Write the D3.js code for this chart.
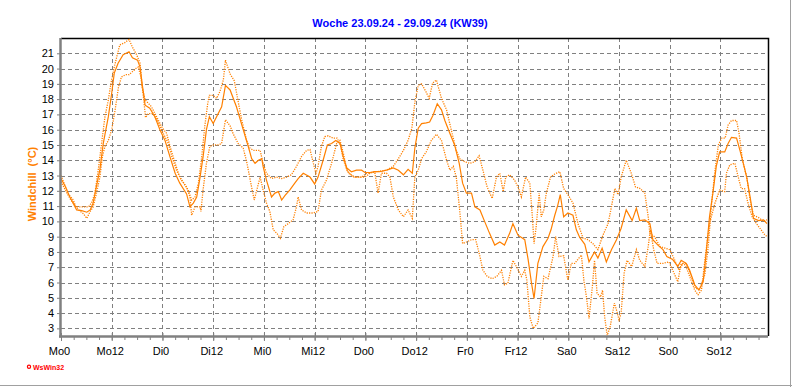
<!DOCTYPE html>
<html>
<head>
<meta charset="utf-8">
<script src="https://cdn.jsdelivr.net/npm/d3@7"></script>
<style>
  body { margin: 0; background: #fff; }
  svg { display: block; font-family: "Liberation Sans", Arial, sans-serif; }
</style>
</head>
<body>
<div id="chart"></div>
<script>
const title = "Woche 23.09.24 - 29.09.24 (KW39)";
const yLabel = "Windchill  (°C)";
const dayNames = ["Mo", "Di", "Mi", "Do", "Fr", "Sa", "So"];
const yTicks = [3, 4, 5, 6, 7, 8, 9, 10, 11, 12, 13, 14, 15, 16, 17, 18, 19, 20, 21];
const xTicks = [0, 12, 24, 36, 48, 60, 72, 84, 96, 108, 120, 132, 144, 156];

// [hour of the week, °C]
const windchill = [
  [0,12.8],[1,12.3],[2.1,11.6],[3.7,10.75],[4.9,10.7],[6.1,10.6],[6.9,10.75],[7.6,11.2],[8.4,12.3],[9.2,13.4],
  [10,15.1],[11.2,16.85],[12,18.4],[12.6,19.7],[13.5,20.35],[14.7,20.9],[16.1,21.1],[16.9,20.7],[18.1,20.55],[18.7,20.1],
  [19.2,19.0],[19.9,17.6],[21,17.4],[22.2,16.85],[23.4,16.0],[24.6,15.3],[25.8,14.2],[27,13.15],[28.1,12.5],[29.7,11.8],
  [30.5,10.95],[31.3,11.2],[32.1,11.6],[32.9,12.9],[33.6,14.2],[34.4,16.0],[35.1,16.85],[36,16.4],[36.8,16.85],[38,17.5],
  [38.9,18.9],[40,18.6],[41.5,17.5],[43.1,16.0],[44.3,14.9],[45.1,14.1],[45.9,13.8],[46.7,14.0],[47.5,14.1],[47.8,13.6],
  [48.6,12.7],[49.8,11.6],[50.6,11.85],[51.4,11.95],[52.2,11.4],[53,11.7],[54.1,12.05],[55.3,12.5],[56.1,12.8],[57.3,13.15],
  [58.9,12.9],[60,12.45],[60.8,12.9],[62,14.0],[63,15.0],[64,15.1],[65,15.3],[66,15.1],[66.8,14.2],[67.6,13.5],
  [68.7,13.25],[69.9,13.35],[71.1,13.35],[71.9,13.2],[73.1,13.2],[74.2,13.25],[75.4,13.25],[77,13.35],[78.6,13.5],[79.8,13.35],
  [81,13.05],[82.1,13.4],[83.1,13.15],[83.7,14.8],[84.5,16.1],[85.3,16.4],[86.4,16.45],[87.2,16.5],[88,16.95],[89,17.7],
  [90,17.3],[90.8,16.6],[92,15.75],[93.1,15.0],[94.2,13.8],[95,12.5],[95.9,11.85],[97.1,11.85],[97.9,10.95],[99.1,10.75],
  [100.2,10.0],[101.4,9.2],[102.6,8.45],[103.8,8.65],[104.9,8.45],[106.1,9.2],[106.9,9.85],[108.1,9.1],[109.7,8.8],[110.5,7.5],
  [111.3,5.95],[111.9,4.95],[112.8,7.25],[114,8.35],[115.2,8.9],[115.9,9.45],[116.8,10.4],[117.5,11.05],[118.1,11.75],[118.9,10.3],
  [119.9,10.55],[121.1,10.4],[121.9,9.45],[122.7,8.95],[123.9,8.5],[124.9,7.35],[126.2,8.0],[127,7.6],[128,8.25],[129,7.35],
  [130.2,8.15],[131.4,8.8],[132.5,9.55],[133.7,10.75],[135.1,10.05],[136.1,10.85],[136.9,10.05],[138.1,10.1],[139.3,9.85],[140,8.8],
  [141.2,8.45],[142.4,8.15],[143.3,7.7],[144.7,7.5],[145.9,7.05],[146.7,7.45],[147.9,7.25],[148.7,6.8],[149.9,5.85],[150.9,5.5],
  [151.9,6.05],[152.6,7.9],[153.4,10.3],[154.2,11.85],[155,13.6],[155.8,14.55],[157,14.55],[157.8,15.1],[158.6,15.5],[159.8,15.45],
  [160.6,14.65],[161.4,13.8],[162.2,12.9],[163,11.6],[163.8,10.2],[165,10.05],[166.2,10.1],[167,9.85]
];

const windchillMax = [
  [0,13.0],[1.7,11.8],[2.9,11.4],[3.5,10.95],[6.5,10.95],[7.2,11.2],[8,11.8],[8.8,13.35],[9.6,15.1],[10.4,16.85],
  [11.2,17.95],[11.8,19.0],[12.6,20.1],[13.4,21.0],[13.9,21.55],[15.1,21.7],[16.1,21.9],[16.9,21.4],[17.9,20.9],[18.7,20.35],
  [19.2,18.8],[19.9,17.95],[21.4,17.5],[22.6,16.85],[23.8,16.2],[25,15.75],[25.8,14.9],[27,13.8],[28.1,12.9],[29.3,12.4],
  [30.1,12.05],[30.9,11.4],[31.7,11.6],[32.5,12.5],[33.3,14.25],[34,16.2],[34.7,17.7],[35.1,18.25],[36,18.25],[36.8,18.05],
  [37.6,18.5],[38.4,19.25],[38.9,20.55],[40,19.65],[41,19.2],[41.8,18.0],[42.7,16.7],[43.9,15.3],[44.7,14.8],[45.5,14.65],
  [47.1,14.65],[47.8,13.8],[48.6,13.15],[49.8,12.8],[51,12.9],[52.2,12.8],[53.4,12.9],[54.5,13.05],[55.7,13.6],[56.9,14.25],
  [58.1,14.65],[58.9,14.7],[59.7,13.8],[60.3,13.15],[60.8,13.6],[61.6,14.9],[62.4,15.55],[63.2,15.6],[64.4,15.45],[65.3,15.45],
  [66.1,15.0],[66.8,14.0],[68,13.15],[69.5,12.9],[71.1,12.9],[72.3,13.15],[74.6,13.25],[77,13.35],[78.6,13.6],[79.8,14.1],
  [81,14.65],[82.1,15.3],[83,16.1],[83.7,17.8],[84.5,18.9],[85.3,19.0],[86.3,18.5],[87.1,18.05],[87.9,19.05],[88.8,19.25],
  [90,18.05],[91.2,17.3],[92.3,16.0],[93.5,14.65],[94.3,14.1],[95.5,13.9],[96.7,13.8],[97.9,13.9],[98.9,14.3],[99.8,13.35],
  [100.8,12.25],[102,11.5],[103,12.9],[103.8,13.15],[104.6,11.95],[105.2,12.9],[106.1,13.05],[107.3,12.7],[108.1,12.25],[108.9,11.6],
  [109.9,12.9],[110.9,12.5],[111.5,10.3],[111.9,8.55],[112.4,9.65],[113.1,11.85],[113.6,10.3],[114.2,10.75],[114.8,11.85],[115.8,12.9],
  [116.8,13.1],[118,13.25],[118.9,12.15],[119.9,11.75],[121.1,11.2],[122.3,9.85],[123.5,8.9],[124.7,8.8],[125.8,8.55],[127,8.15],
  [128.2,9.1],[129.4,9.85],[130.2,10.95],[131,12.15],[131.8,11.75],[132.5,12.9],[133.7,14.0],[134.9,13.15],[135.9,12.25],[137,12.15],
  [138.1,11.85],[138.9,10.3],[139.3,9.2],[140.4,9.0],[141.7,8.35],[142.9,8.25],[144,8.15],[145.2,7.45],[146.2,6.8],[147.1,7.25],
  [147.9,7.25],[149.1,6.4],[150.1,5.6],[151.1,5.6],[152.3,6.5],[153.1,8.35],[153.9,11.2],[154.7,13.35],[155.5,15.0],[156.3,15.45],
  [157.1,15.45],[157.8,16.3],[158.6,16.6],[159.8,16.6],[160.4,15.75],[161.2,14.0],[162.2,12.9],[163,11.4],[163.8,10.4],[165,10.25],
  [166.2,10.0],[167,10.1]
];

const windchillMin = [
  [0,12.6],[0.95,12.1],[2.1,11.5],[3.3,11.05],[4.1,10.75],[5.3,10.5],[6.1,10.2],[6.9,10.65],[7.6,10.95],[8.4,11.85],
  [9.2,12.9],[9.8,14.25],[10.4,14.9],[11.2,15.3],[12,16.0],[12.8,17.3],[13.6,18.8],[14.3,19.45],[15.3,19.6],[16.1,19.6],
  [16.9,19.8],[17.7,20.0],[18.3,20.1],[18.9,19.45],[19.5,18.15],[20,16.8],[20.6,17.05],[21.8,17.05],[23,16.5],[24.2,15.75],
  [25.4,15.1],[26.2,14.25],[27.3,13.35],[28.5,12.7],[29.7,12.25],[30.5,11.6],[30.9,10.4],[31.7,10.95],[32.9,10.95],[33.1,10.65],
  [33.6,12.05],[34.4,13.8],[35.2,14.9],[36,15.0],[37.2,15.0],[38,15.1],[38.9,16.65],[40,16.25],[40.7,15.75],[41.9,15.1],
  [43.1,14.8],[44,13.8],[44.9,12.5],[45.7,11.4],[46.5,12.25],[47.1,12.9],[47.8,12.05],[48.6,11.2],[49.4,10.65],[50.2,9.45],
  [51.1,9.2],[51.9,8.9],[52.7,9.65],[53.7,9.85],[54.9,10.1],[55.7,10.95],[56.1,11.6],[56.9,10.75],[58.1,10.55],[59.7,10.55],
  [60.8,10.65],[61.6,12.05],[62.8,12.7],[64,13.8],[65.2,15.1],[66,15.3],[66.8,14.45],[67.6,13.35],[69.1,12.9],[70.7,12.9],
  [71.9,12.9],[73.1,13.15],[74.2,13.25],[75,11.85],[75.8,13.15],[77,13.15],[77.8,12.9],[78.6,11.6],[79.8,10.75],[81,10.3],
  [82.1,10.75],[83.1,10.2],[83.7,12.9],[84.5,13.35],[85.3,14.1],[86.4,14.55],[87.6,15.3],[88.8,15.7],[90,15.3],[91.2,14.0],
  [92,13.35],[92.8,13.6],[93.5,12.9],[94.3,10.75],[95,8.55],[95.9,8.65],[97.1,8.8],[98.1,8.8],[99.1,7.7],[99.8,6.8],
  [100.8,6.4],[102,6.25],[103.1,6.4],[104.2,6.8],[104.9,5.85],[105.7,5.95],[106.9,7.45],[107.9,6.95],[108.9,6.4],[109.7,6.8],
  [110.2,6.15],[110.9,3.75],[111.7,3.0],[112.8,3.35],[113.6,5.05],[114.2,6.4],[115.2,6.25],[116.4,7.7],[117,9.0],[117.8,7.7],
  [118.9,7.75],[119.9,6.15],[120.7,7.25],[121.5,7.25],[123.1,7.8],[123.7,6.1],[124.3,5.05],[124.9,3.65],[125.7,5.75],[126.2,7.45],
  [126.8,5.3],[127.6,5.05],[128.1,5.5],[128.6,3.75],[129.2,2.55],[129.9,3.1],[130.9,4.65],[131.5,4.1],[132,3.55],[132.5,4.0],
  [133.2,6.6],[133.9,7.45],[135,7.05],[136.1,8.15],[136.9,7.45],[138.1,7.05],[138.9,8.35],[139.4,9.45],[140.2,8.15],[141,7.25],
  [142.4,7.25],[143.8,7.35],[144.7,6.8],[145.9,6.05],[146.7,7.25],[147.7,7.15],[148.7,6.4],[149.9,5.5],[150.7,5.2],[151.5,5.5],
  [152.3,7.45],[153.4,9.85],[154.7,11.2],[155.8,12.05],[157,11.95],[157.4,13.15],[158.2,13.7],[159.4,13.8],[160.2,12.9],[160.9,12.15],
  [161.7,12.15],[162.5,11.2],[163.5,10.3],[164.5,9.85],[165.6,9.45],[166.4,9.15],[167,9.0]
];

const width = 792, height = 387;
const plot = {left: 61, right: 767, top: 38, bottom: 336};
const orange = "#ff8000";

const svg = d3.select("#chart").append("svg")
    .attr("width", width)
    .attr("height", height);

const x = d3.scaleLinear().domain([0, 167]).range([plot.left, plot.right]);
const y = d3.scaleLinear().domain([2.5, 22]).range([plot.bottom, plot.top]);

// outer frame (only right/bottom visible)
svg.append("line").attr("x1", 0).attr("x2", width).attr("y1", height - 1.5).attr("y2", height - 1.5)
    .attr("stroke", "#a0a0a0");
svg.append("line").attr("x1", width - 1.5).attr("x2", width - 1.5).attr("y1", 0).attr("y2", height)
    .attr("stroke", "#a0a0a0");

// grid
const grid = svg.append("g")
    .attr("stroke", "#808080")
    .attr("stroke-dasharray", "4,3")
    .attr("shape-rendering", "crispEdges");

grid.selectAll(".hg")
    .data(yTicks)
    .enter().append("line")
    .attr("x1", plot.left)
    .attr("x2", plot.right + 1)
    .attr("y1", d => Math.round(y(d)) + 0.5)
    .attr("y2", d => Math.round(y(d)) + 0.5);

grid.selectAll(".vg")
    .data(xTicks.slice(1))
    .enter().append("line")
    .attr("x1", d => Math.round(x(d)) + 0.5)
    .attr("x2", d => Math.round(x(d)) + 0.5)
    .attr("y1", plot.top)
    .attr("y2", plot.bottom);

// top and right border
svg.append("path")
    .attr("d", `M${plot.left},${plot.top + 0.5}H${plot.right + 1.5}V${plot.bottom}`)
    .attr("fill", "none")
    .attr("stroke", "#000")
    .attr("stroke-width", 1.5);

// series
const line = d3.line()
    .x(d => x(d[0]))
    .y(d => y(d[1]));

svg.append("path")
    .datum(windchillMax)
    .attr("d", line)
    .attr("fill", "none")
    .attr("stroke", orange)
    .attr("stroke-width", 1.3)
    .attr("stroke-dasharray", "1.2,1.2");

svg.append("path")
    .datum(windchillMin)
    .attr("d", line)
    .attr("fill", "none")
    .attr("stroke", orange)
    .attr("stroke-width", 1.3)
    .attr("stroke-dasharray", "1.2,1.2");

svg.append("path")
    .datum(windchill)
    .attr("d", line)
    .attr("fill", "none")
    .attr("stroke", orange)
    .attr("stroke-width", 1.2);

// x axis
const xAxis = d3.axisBottom(x)
    .tickValues(xTicks)
    .tickSize(5)
    .tickPadding(6)
    .tickFormat(d => dayNames[Math.floor(d / 24)] + (d % 24));

const xMinor = d3.axisBottom(x)
    .tickValues(d3.range(0, 168, 3))
    .tickSize(4)
    .tickFormat("");

svg.append("g")
    .attr("transform", `translate(0,${plot.bottom})`)
    .call(xMinor)
    .call(g => g.select(".domain").remove())
    .call(g => g.selectAll("line").attr("stroke", "#808080"));

svg.append("g")
    .attr("transform", `translate(0,${plot.bottom})`)
    .call(xAxis)
    .call(g => g.select(".domain")
        .attr("d", `M${plot.left - 2},0.5H${plot.right + 1}`)
        .attr("stroke", "#808080")
        .attr("stroke-width", 2.5))
    .call(g => g.selectAll(".tick line").attr("stroke", "#808080").attr("y1", -3))
    .call(g => g.selectAll("text")
        .attr("dx", -2)
        .attr("fill", "#000")
        .style("font-size", "11px")
        .style("font-family", "Liberation Sans, Arial, sans-serif"));

// y axis
const yAxis = d3.axisLeft(y)
    .tickValues(yTicks)
    .tickSize(4)
    .tickPadding(3);

svg.append("g")
    .attr("transform", `translate(${plot.left},0)`)
    .call(yAxis)
    .call(g => g.select(".domain")
        .attr("d", `M-0.5,${plot.top}V${plot.bottom + 1.5}`)
        .attr("stroke", "#808080")
        .attr("stroke-width", 2.5))
    .call(g => g.selectAll(".tick line").attr("stroke", "#808080"))
    .call(g => g.selectAll("text")
        .attr("fill", "#000")
        .style("font-size", "11px")
        .style("font-family", "Liberation Sans, Arial, sans-serif"));

// title
svg.append("text")
    .attr("x", 400)
    .attr("y", 27)
    .attr("text-anchor", "middle")
    .attr("fill", "#0000ff")
    .style("font-size", "11px")
    .style("font-weight", "bold")
    .text(title);

// y label
svg.append("text")
    .attr("transform", "translate(36,184) rotate(-90)")
    .attr("text-anchor", "middle")
    .attr("fill", orange)
    .style("font-size", "11px")
    .style("font-weight", "bold")
    .style("white-space", "pre")
    .attr("xml:space", "preserve")
    .text(yLabel);

// WsWin32 mark
svg.append("circle")
    .attr("cx", 29)
    .attr("cy", 366.8)
    .attr("r", 1.6)
    .attr("fill", "none")
    .attr("stroke", "#ff0000")
    .attr("stroke-width", 1.2);

svg.append("text")
    .attr("x", 33)
    .attr("y", 369.5)
    .attr("fill", "#ff0000")
    .style("font-size", "7px")
    .style("font-weight", "bold")
    .text("WsWin32");
</script>
</body>
</html>
